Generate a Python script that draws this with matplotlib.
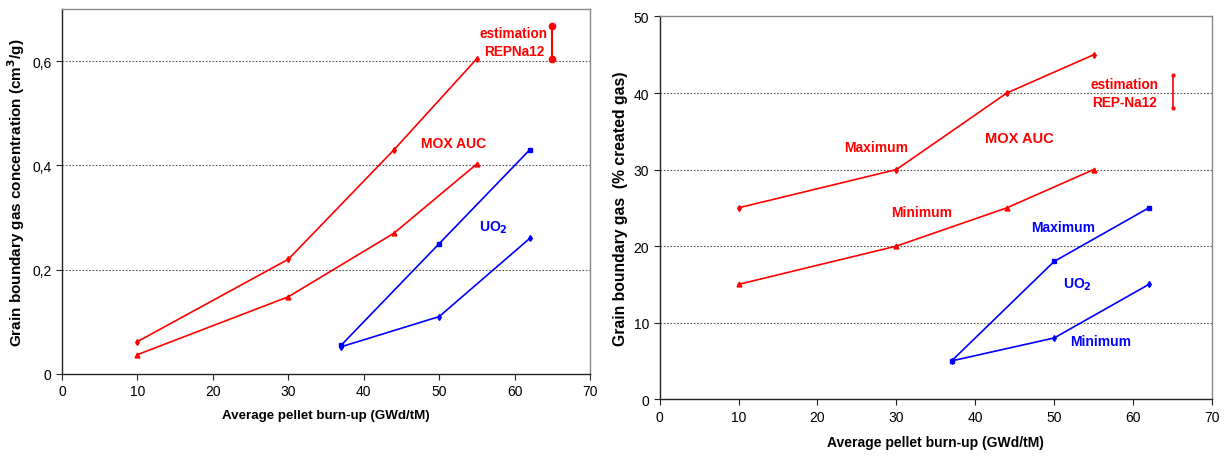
import matplotlib.pyplot as plt
from matplotlib.ticker import FuncFormatter

plt.rcParams['font.family'] = ['Liberation Sans', 'DejaVu Sans']

# left panel: gas concentration (cm3/g)
mox_x = [10, 30, 44, 55]
mox_max_conc = [0.062, 0.220, 0.430, 0.605]
mox_min_conc = [0.037, 0.148, 0.270, 0.403]
uo2_x = [37, 50, 62]
uo2_max_conc = [0.055, 0.250, 0.430]
uo2_min_conc = [0.052, 0.110, 0.260]
est_x = 65
est_conc = [0.604, 0.667]

# right panel: % of created gas
mox_max_pct = [25, 30, 40, 45]
mox_min_pct = [15, 20, 25, 30]
uo2_max_pct = [5, 18, 25]
uo2_min_pct = [5, 8, 15]
est_pct = [38.1, 42.4]

RED = '#ff0000'
BLUE = '#0000ff'
GRID = '#555555'
SPINE = '#888888'

fig = plt.figure(figsize=(12.26, 4.6), dpi=100)
ax1 = fig.add_axes([0.0506, 0.185, 0.4307, 0.793])
ax2 = fig.add_axes([0.538, 0.130, 0.4506, 0.832])


def style(ax):
    for s in ax.spines.values():
        s.set_color(SPINE)
        s.set_linewidth(1.0)
    ax.spines['left'].set_color('#222222')
    ax.spines['bottom'].set_color('#222222')
    ax.tick_params(direction='out', length=4, labelsize=10, color='#222222')
    ax.set_xlim(0, 70)
    ax.set_xticks(range(0, 71, 10))


# ---- left
ax1.plot(mox_x, mox_max_conc, color=RED, lw=1.2, marker='d', ms=3)
ax1.plot(mox_x, mox_min_conc, color=RED, lw=1.2, marker='^', ms=3.5)
ax1.plot(uo2_x, uo2_max_conc, color=BLUE, lw=1.2, marker='s', ms=3)
ax1.plot(uo2_x, uo2_min_conc, color=BLUE, lw=1.2, marker='d', ms=3)
ax1.plot([est_x, est_x], est_conc, color=RED, lw=1.5, marker='o', ms=4.5)
style(ax1)
ax1.set_ylim(0, 0.7)
ax1.set_yticks([0, 0.2, 0.4, 0.6])
ax1.yaxis.set_major_formatter(FuncFormatter(lambda v, p: ('%g' % round(v, 2)).replace('.', ',')))
for yv in [0.2, 0.4, 0.6]:
    ax1.axhline(yv, color=GRID, lw=0.8, ls=(0, (1.5, 1.5)), zorder=0)
ax1.set_xlabel('Average pellet burn-up (GWd/tM)', fontsize=9.6, fontweight='bold', labelpad=8)
ax1.set_ylabel('Grain boundary gas concentration (cm$^{\\mathbf{3}}$/g)', fontsize=11, fontweight='bold')
ax1.text(51.9, 0.443, 'MOX AUC', color=RED, fontsize=10, fontweight='bold', ha='center', va='center')
ax1.text(57.2, 0.282, 'UO$_\\mathbf{2}$', color=BLUE, fontsize=10, fontweight='bold', ha='center', va='center')
ax1.text(59.9, 0.637, 'estimation\nREPNa12', color=RED, fontsize=9.8, fontweight='bold',
         ha='center', va='center', linespacing=1.3)

# ---- right
ax2.plot(mox_x, mox_max_pct, color=RED, lw=1.2, marker='d', ms=3)
ax2.plot(mox_x, mox_min_pct, color=RED, lw=1.2, marker='^', ms=3.5)
ax2.plot(uo2_x, uo2_max_pct, color=BLUE, lw=1.2, marker='s', ms=3)
ax2.plot(uo2_x, uo2_min_pct, color=BLUE, lw=1.2, marker='d', ms=3)
ax2.plot([est_x, est_x], est_pct, color=RED, lw=1.2, marker='o', ms=2)
style(ax2)
ax2.set_ylim(0, 50)
ax2.set_yticks(range(0, 51, 10))
for yv in [10, 20, 30, 40]:
    ax2.axhline(yv, color=GRID, lw=0.8, ls=(0, (1.5, 1.5)), zorder=0)
ax2.set_xlabel('Average pellet burn-up (GWd/tM)', fontsize=10, fontweight='bold', labelpad=8)
ax2.set_ylabel('Grain boundary gas  (% created gas)', fontsize=11.3, fontweight='bold')
ax2.text(27.5, 33.0, 'Maximum', color=RED, fontsize=10, fontweight='bold', ha='center', va='center')
ax2.text(33.2, 24.4, 'Minimum', color=RED, fontsize=10, fontweight='bold', ha='center', va='center')
ax2.text(45.6, 34.1, 'MOX AUC', color=RED, fontsize=10.5, fontweight='bold', ha='center', va='center')
ax2.text(51.1, 22.5, 'Maximum', color=BLUE, fontsize=10, fontweight='bold', ha='center', va='center')
ax2.text(53.0, 15.1, 'UO$_\\mathbf{2}$', color=BLUE, fontsize=10, fontweight='bold', ha='center', va='center')
ax2.text(55.9, 7.6, 'Minimum', color=BLUE, fontsize=10, fontweight='bold', ha='center', va='center')
ax2.text(58.9, 40.0, 'estimation\nREP-Na12', color=RED, fontsize=9.8, fontweight='bold',
         ha='center', va='center', linespacing=1.3)

fig.savefig('out.png', dpi=100)
